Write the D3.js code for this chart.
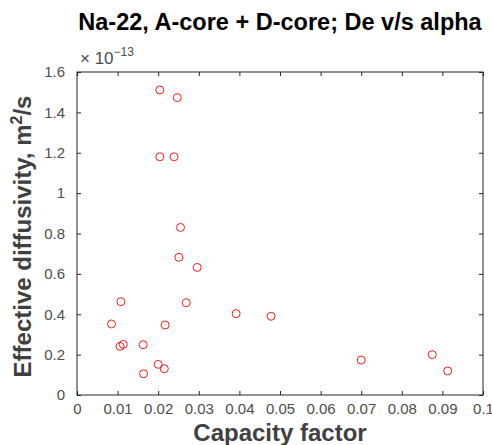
<!DOCTYPE html>
<html>
<head>
<meta charset="utf-8">
<script src="https://cdn.jsdelivr.net/npm/d3@7"></script>
<style>
  body { margin: 0; background: #fff; }
  text { font-family: "Liberation Sans", Arial, sans-serif; }
</style>
</head>
<body>
<svg width="492" height="445"></svg>
<script>
// capacity factor (alpha) and effective diffusivity (x 1e-13 m2/s)
var alpha = [0.0204, 0.0247, 0.0204, 0.0239, 0.0255, 0.0251, 0.0296, 0.0108, 0.0085, 0.0269,
             0.0217, 0.0392, 0.0478, 0.0106, 0.0114, 0.0163, 0.0200, 0.0215, 0.0164, 0.0700,
             0.0875, 0.0913];
var De = [1.511, 1.473, 1.180, 1.180, 0.830, 0.682, 0.632, 0.462, 0.352, 0.457,
          0.347, 0.403, 0.390, 0.241, 0.251, 0.249, 0.152, 0.130, 0.105, 0.173,
          0.200, 0.119];
var xTicks = [0, 0.01, 0.02, 0.03, 0.04, 0.05, 0.06, 0.07, 0.08, 0.09, 0.1];
var yTicks = [0, 0.2, 0.4, 0.6, 0.8, 1, 1.2, 1.4, 1.6];

var svg = d3.select('svg');
var box = {l: 77, r: 483, t: 72, b: 395};
var w = box.r - box.l, h = box.b - box.t;

var x = d3.scaleLinear().domain([0, 0.1]).range([0, w]);
var y = d3.scaleLinear().domain([0, 1.6]).range([h, 0]);

var g = svg.append('g').attr('transform', 'translate(' + box.l + ',' + box.t + ')');

var axisColor = '#262626';
var tickFmt = function(d) { return String(+d.toFixed(2)); };

function styleAxis(sel, hideText) {
  sel.select('.domain').remove();
  sel.selectAll('line').attr('stroke', axisColor).attr('stroke-width', 1);
  sel.selectAll('text')
    .attr('fill', '#4d4d4d')
    .style('font-size', '15px')
    .style('display', hideText ? 'none' : null);
}

g.append('g').attr('transform', 'translate(0,' + h + ')')
  .call(d3.axisBottom(x).tickValues(xTicks).tickFormat(tickFmt).tickSizeInner(-4).tickSizeOuter(0).tickPadding(8))
  .call(styleAxis, false);
g.append('g')
  .call(d3.axisTop(x).tickValues(xTicks).tickSizeInner(-4).tickSizeOuter(0))
  .call(styleAxis, true);
g.append('g')
  .call(d3.axisLeft(y).tickValues(yTicks).tickFormat(tickFmt).tickSizeInner(-4).tickSizeOuter(0).tickPadding(12))
  .call(styleAxis, false);
g.append('g').attr('transform', 'translate(' + w + ',0)')
  .call(d3.axisRight(y).tickValues(yTicks).tickSizeInner(-4).tickSizeOuter(0))
  .call(styleAxis, true);

g.append('rect')
  .attr('x', 0).attr('y', 0).attr('width', w).attr('height', h)
  .attr('fill', 'none').attr('stroke', axisColor).attr('stroke-width', 1);

// data markers
g.selectAll('.pt')
  .data(d3.range(alpha.length))
  .enter().append('circle')
  .attr('class', 'pt')
  .attr('cx', function(i) { return x(alpha[i]); })
  .attr('cy', function(i) { return y(De[i]); })
  .attr('r', 4)
  .attr('fill', 'none')
  .attr('stroke', '#ff0000')
  .attr('stroke-width', 0.9);

// exponent label
var ex = svg.append('text').attr('x', box.l + 3).attr('y', 64)
  .attr('fill', '#4d4d4d').style('font-size', '17px');
ex.append('tspan').text('\u00d7 10');
ex.append('tspan').attr('dy', -8).style('font-size', '12px').text('\u221213');

// title
svg.append('text')
  .attr('x', (box.l + box.r) / 2).attr('y', 30)
  .attr('text-anchor', 'middle')
  .style('font-size', '23.5px').style('font-weight', 'bold')
  .attr('fill', '#000')
  .text('Na-22, A-core + D-core; De v/s alpha');

// axis labels
svg.append('text')
  .attr('x', (box.l + box.r) / 2).attr('y', 441)
  .attr('text-anchor', 'middle')
  .style('font-size', '24px').style('font-weight', 'bold')
  .attr('fill', '#404040')
  .text('Capacity factor');

var yl = svg.append('text')
  .attr('transform', 'translate(31,' + ((box.t + box.b) / 2 + 3) + ') rotate(-90)')
  .attr('text-anchor', 'middle')
  .style('font-size', '24px').style('font-weight', 'bold')
  .attr('fill', '#404040');
yl.append('tspan').text('Effective diffusivity, m');
yl.append('tspan').attr('dy', -9).style('font-size', '16px').text('2');
yl.append('tspan').attr('dy', 9).text('/s');
</script>
</body>
</html>
